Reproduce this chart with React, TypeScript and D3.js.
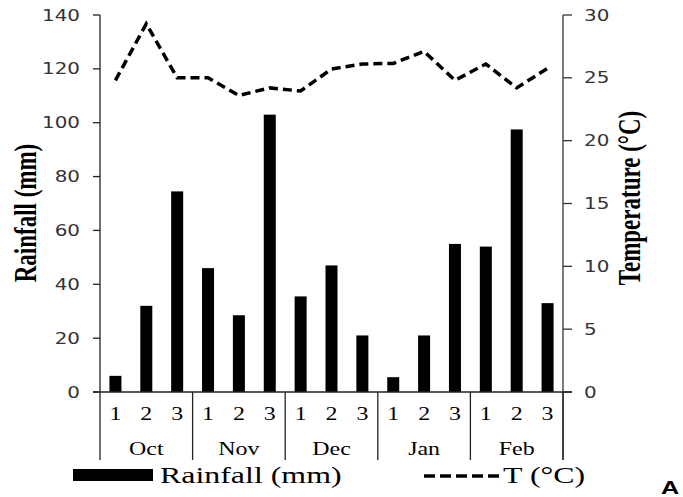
import * as d3 from 'd3';

const months = ['Oct', 'Nov', 'Dec', 'Jan', 'Feb'];
const dekads = ['1', '2', '3'];
const rainfall = [6, 32, 74.5, 46, 28.5, 103, 35.5, 47, 21, 5.5, 21, 55, 54, 97.5, 33];
const temperature = [24.8, 29.3, 25.0, 25.0, 23.6, 24.2, 23.95, 25.7, 26.1, 26.15, 27.1, 24.8, 26.1, 24.2, 25.75];
const rainTicks = [0, 20, 40, 60, 80, 100, 120, 140];
const tempTicks = [0, 5, 10, 15, 20, 25, 30];

const width = 683;
const height = 497;
const left = 100;
const right = 563;
const top = 15;
const bottom = 392;
const sx = 1.33; // the picture is stretched sideways

export default function App() {
  const cats = d3.range(rainfall.length);
  const x = d3.scaleBand<number>().domain(cats).range([left, right]);
  const yRain = d3.scaleLinear().domain([0, 140]).range([bottom, top]);
  const yTemp = d3.scaleLinear().domain([0, 30]).range([bottom, top]);
  const xMid = (i: number) => (x(i) as number) + x.bandwidth() / 2;

  const line = d3.line<number>()
    .x((_, i) => xMid(i))
    .y(d => yTemp(d));

  const monthX = d3.scaleBand<string>().domain(months).range([left, right]);

  // text that gets the same sideways stretch
  const T = (p: { x: number; y: number; anchor?: string; rot?: boolean; size: number; family: string; weight?: string; fill?: string; children: string }) => (
    <text
      transform={`translate(${p.x},${p.y}) scale(${sx},1)${p.rot ? ' rotate(-90)' : ''}`}
      textAnchor={p.anchor || 'middle'}
      fontSize={p.size}
      fontFamily={p.family}
      fontWeight={p.weight || 'normal'}
      fill={p.fill || '#000'}
    >{p.children}</text>
  );

  const serif = '"Liberation Serif", "Times New Roman", serif';
  const sans = '"DejaVu Sans", Verdana, sans-serif';

  return (
    <svg width={width} height={height} style={{ position: 'absolute', left: 0, top: 0, background: '#fff' }}>
      {/* bars */}
      {rainfall.map((d, i) => (
        <rect key={i} x={xMid(i) - 6} width={12} y={yRain(d)} height={bottom - yRain(d)} fill="#000" />
      ))}

      {/* temperature line */}
      <path d={line(temperature) || ''} fill="none" stroke="#000" strokeWidth={3.5} strokeDasharray="9,5" />

      {/* left axis */}
      <line x1={left} x2={left} y1={top} y2={460} stroke="#222" strokeWidth={1.3} />
      {rainTicks.map(t => (
        <g key={t}>
          <line x1={left - 7} x2={left} y1={yRain(t)} y2={yRain(t)} stroke="#222" strokeWidth={1.3} />
          <T x={80} y={yRain(t) + 5.5} anchor="end" size={15} family={sans} fill="#333">{String(t)}</T>
        </g>
      ))}

      {/* right axis */}
      <line x1={right} x2={right} y1={top} y2={460} stroke="#333" strokeWidth={1.3} />
      {tempTicks.map(t => (
        <g key={t}>
          <line x1={right} x2={right + 9} y1={yTemp(t)} y2={yTemp(t)} stroke="#333" strokeWidth={1.3} />
          <T x={584} y={yTemp(t) + 5.5} anchor="start" size={15} family={sans} fill="#333">{String(t)}</T>
        </g>
      ))}

      {/* bottom axis */}
      <line x1={left - 7} x2={right + 9} y1={bottom} y2={bottom} stroke="#222" strokeWidth={1.3} />

      {/* category labels */}
      {months.map((m, mi) => (
        <g key={m}>
          <line x1={(monthX(m) as number) + monthX.bandwidth()} x2={(monthX(m) as number) + monthX.bandwidth()} y1={bottom} y2={460} stroke="#222" strokeWidth={1.3} />
          {dekads.map((dk, di) => (
            <T key={dk} x={xMid(mi * 3 + di)} y={420} size={18} family={serif}>{dk}</T>
          ))}
          <T x={(monthX(m) as number) + monthX.bandwidth() / 2} y={455} size={18} family={serif}>{m}</T>
        </g>
      ))}

      {/* axis titles */}
      <T x={36} y={213} rot size={23} family={serif} weight="bold">Rainfall (mm)</T>
      <T x={640} y={198} rot size={23} family={serif} weight="bold">Temperature (°C)</T>

      {/* legend */}
      <rect x={73} y={469} width={80} height={12} fill="#000" />
      <T x={160} y={483} anchor="start" size={24} family={serif}>Rainfall (mm)</T>
      <line x1={424} x2={503} y1={476} y2={476} stroke="#000" strokeWidth={3.5} strokeDasharray="11,5" />
      <T x={503} y={483} anchor="start" size={24} family={serif}>T (°C)</T>

      <T x={661} y={494} anchor="start" size={19} family='"Liberation Sans", Arial, sans-serif' weight="bold">A</T>
    </svg>
  );
}
